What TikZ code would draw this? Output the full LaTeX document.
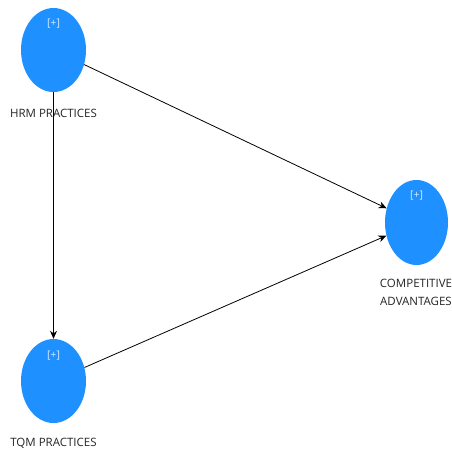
\documentclass[tikz,border=0pt]{standalone}
\usepackage{fontspec}
\setmainfont{Open Sans}
\usetikzlibrary{shapes.geometric,arrows.meta}
\definecolor{lvblue}{RGB}{30,144,255}
\begin{document}
\begin{tikzpicture}[x=1pt,y=-1pt,
  lv/.style={ellipse,fill=lvblue,draw=none,minimum width=65pt,minimum height=84pt,inner sep=0pt},
  plus/.style={text=white!85!lvblue,font=\fontsize{10.5}{12}\selectfont,inner sep=0pt},
  lbl/.style={font=\fontsize{11.5}{18}\selectfont,text=black!85,inner sep=0pt,align=center},
  path/.style={draw=black,line width=0.8pt,-{Stealth[length=8pt,width=7pt]}}]
\useasboundingbox[fill=white] (0,0) rectangle (451,453);
\node[lv] (hrm) at (53.5,50) {};
\node[lv] (tqm) at (53.5,381) {};
\node[lv,minimum width=63pt,minimum height=85pt] (ca) at (416.5,222.5) {};
\node[plus] (hrmp) at (53.5,24) {[+]};
\node[plus] (tqmp) at (53.5,356) {[+]};
\node[plus] (cap) at (416.5,196) {[+]};
\node[lbl] (hrml) at (53.5,113) {HRM PRACTICES};
\node[lbl] (tqml) at (53.5,443) {TQM PRACTICES};
\node[lbl] (cal) at (416,292) {COMPETITIVE\\ADVANTAGES};
\draw[path] (hrm) -- (ca);
\draw[path] (tqm) -- (ca);
\draw[path] (hrm) -- (tqm);
\end{tikzpicture}
\end{document}
